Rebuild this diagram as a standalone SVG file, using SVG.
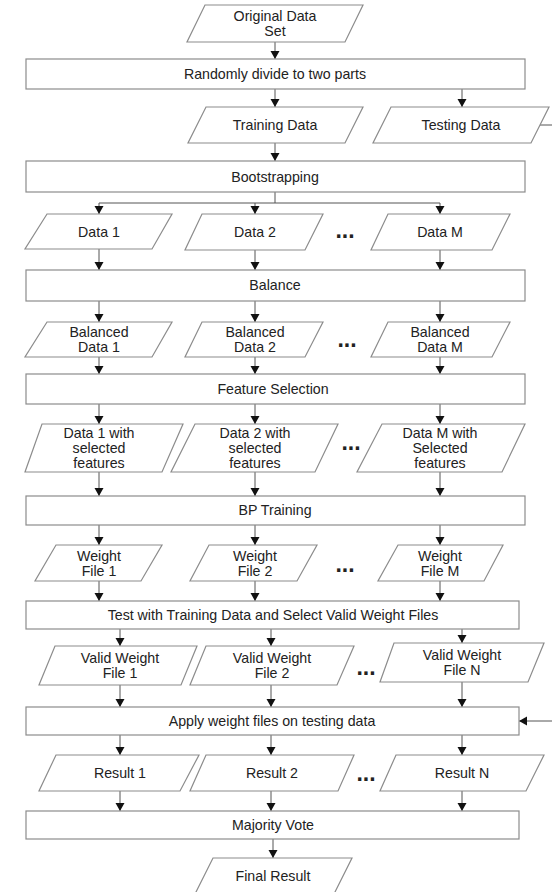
<svg xmlns="http://www.w3.org/2000/svg" width="552" height="892" viewBox="0 0 552 892">
  <style>
    .box { fill: #ffffff; stroke: #8c8c8c; stroke-width: 1.2; }
    .lbl { font-family: "Liberation Sans", Arial, sans-serif; font-size: 14.2px; fill: #222222; text-anchor: middle; }
    .dots { font-family: "Liberation Sans", Arial, sans-serif; font-size: 23px; font-weight: bold; fill: #222222; text-anchor: middle; }
    .wire { fill: none; stroke: #555555; stroke-width: 1; }
    .arr { fill: none; stroke: #555555; stroke-width: 1; marker-end: url(#head); }
  </style>
  <defs>
    <marker id="head" markerUnits="userSpaceOnUse" markerWidth="9" markerHeight="10" refX="8" refY="4.5" orient="auto">
      <path d="M0,0 L8,4.5 L0,9 z" fill="#111111"/>
    </marker>
  </defs>
  <rect width="552" height="892" fill="#ffffff"/>

  <!-- connectors -->
  <g id="connectors">
    <line class="arr" x1="275" y1="42" x2="275" y2="59"/>
    <line class="arr" x1="275" y1="89" x2="275" y2="107"/>
    <line class="arr" x1="462" y1="89" x2="462" y2="107"/>
    <line class="wire" x1="540" y1="125" x2="552" y2="125"/>
    <line class="arr" x1="275" y1="143" x2="275" y2="161"/>
    <polyline class="wire" points="275,192 275,203"/>
    <line class="wire" x1="99" y1="203" x2="440" y2="203"/>
    <line class="arr" x1="99" y1="203" x2="99" y2="214"/>
    <line class="arr" x1="255" y1="203" x2="255" y2="214"/>
    <line class="arr" x1="440" y1="203" x2="440" y2="214"/>
    <line class="arr" x1="99" y1="249" x2="99" y2="270"/>
    <line class="arr" x1="255" y1="250" x2="255" y2="270"/>
    <line class="arr" x1="440" y1="250" x2="440" y2="270"/>
    <line class="arr" x1="99" y1="301" x2="99" y2="322"/>
    <line class="arr" x1="255" y1="301" x2="255" y2="322"/>
    <line class="arr" x1="440" y1="301" x2="440" y2="322"/>
    <line class="arr" x1="99" y1="357" x2="99" y2="374"/>
    <line class="arr" x1="255" y1="357" x2="255" y2="374"/>
    <line class="arr" x1="440" y1="357" x2="440" y2="374"/>
    <line class="arr" x1="99" y1="404" x2="99" y2="424"/>
    <line class="arr" x1="255" y1="404" x2="255" y2="424"/>
    <line class="arr" x1="440" y1="404" x2="440" y2="424"/>
    <line class="arr" x1="99" y1="472" x2="99" y2="496"/>
    <line class="arr" x1="255" y1="472" x2="255" y2="496"/>
    <line class="arr" x1="440" y1="472" x2="440" y2="496"/>
    <line class="arr" x1="99" y1="525" x2="99" y2="545"/>
    <line class="arr" x1="255" y1="525" x2="255" y2="545"/>
    <line class="arr" x1="440" y1="525" x2="440" y2="545"/>
    <line class="arr" x1="99" y1="581" x2="99" y2="601"/>
    <line class="arr" x1="255" y1="581" x2="255" y2="601"/>
    <line class="arr" x1="440" y1="581" x2="440" y2="601"/>
    <line class="arr" x1="120" y1="629" x2="120" y2="646"/>
    <line class="arr" x1="271" y1="629" x2="271" y2="646"/>
    <line class="arr" x1="462" y1="629" x2="462" y2="643"/>
    <line class="arr" x1="120" y1="685" x2="120" y2="707"/>
    <line class="arr" x1="271" y1="685" x2="271" y2="707"/>
    <line class="arr" x1="462" y1="682" x2="462" y2="707"/>
    <line class="arr" x1="552" y1="721" x2="519" y2="721"/>
    <line class="arr" x1="120" y1="735" x2="120" y2="755"/>
    <line class="arr" x1="271" y1="735" x2="271" y2="755"/>
    <line class="arr" x1="462" y1="735" x2="462" y2="755"/>
    <line class="arr" x1="120" y1="791" x2="120" y2="811"/>
    <line class="arr" x1="271" y1="791" x2="271" y2="811"/>
    <line class="arr" x1="462" y1="791" x2="462" y2="811"/>
    <line class="arr" x1="273" y1="839" x2="273" y2="858"/>
  </g>

  <!-- input -->
  <g id="original-data">
    <polygon class="box" points="205,5 363,5 345,42 187,42"/>
    <text class="lbl" x="275" y="21">Original Data</text>
    <text class="lbl" x="275" y="36">Set</text>
  </g>
  <g id="divide">
    <rect class="box" x="26" y="59" width="499" height="30"/>
    <text class="lbl" x="275" y="79">Randomly divide to two parts</text>
  </g>
  <g id="training-data">
    <polygon class="box" points="206,107 363,107 345,143 188,143"/>
    <text class="lbl" x="275" y="130">Training Data</text>
  </g>
  <g id="testing-data">
    <polygon class="box" points="391,107 549,107 531,143 373,143"/>
    <text class="lbl" x="461" y="130">Testing Data</text>
  </g>
  <g id="bootstrapping">
    <rect class="box" x="26" y="161" width="499" height="31"/>
    <text class="lbl" x="275" y="182">Bootstrapping</text>
  </g>

  <!-- bootstrap samples -->
  <g id="data-1">
    <polygon class="box" points="47,214 172,214 152,249 25,249"/>
    <text class="lbl" x="99" y="237">Data 1</text>
  </g>
  <g id="data-2">
    <polygon class="box" points="202,214 323,214 305,250 185,250"/>
    <text class="lbl" x="255" y="237">Data 2</text>
  </g>
  <text class="dots" x="345" y="238">...</text>
  <g id="data-m">
    <polygon class="box" points="388,214 510,214 492,250 371,250"/>
    <text class="lbl" x="440" y="237">Data M</text>
  </g>
  <g id="balance">
    <rect class="box" x="26" y="270" width="499" height="31"/>
    <text class="lbl" x="275" y="290">Balance</text>
  </g>

  <!-- balanced samples -->
  <g id="balanced-1">
    <polygon class="box" points="47,322 172,322 152,357 25,357"/>
    <text class="lbl" x="99" y="337">Balanced</text>
    <text class="lbl" x="99" y="352">Data 1</text>
  </g>
  <g id="balanced-2">
    <polygon class="box" points="202,322 323,322 305,357 185,357"/>
    <text class="lbl" x="255" y="337">Balanced</text>
    <text class="lbl" x="255" y="352">Data 2</text>
  </g>
  <text class="dots" x="347" y="347">...</text>
  <g id="balanced-m">
    <polygon class="box" points="388,322 510,322 492,357 371,357"/>
    <text class="lbl" x="440" y="337">Balanced</text>
    <text class="lbl" x="440" y="352">Data M</text>
  </g>
  <g id="feature-selection">
    <rect class="box" x="26" y="374" width="499" height="30"/>
    <text class="lbl" x="273" y="394">Feature Selection</text>
  </g>

  <!-- reduced feature sets -->
  <g id="selected-1">
    <polygon class="box" points="42,424 183,424 162,472 25,472"/>
    <text class="lbl" x="99" y="438">Data 1 with</text>
    <text class="lbl" x="99" y="453">selected</text>
    <text class="lbl" x="99" y="468">features</text>
  </g>
  <g id="selected-2">
    <polygon class="box" points="195,424 338,424 315,472 171,472"/>
    <text class="lbl" x="255" y="438">Data 2 with</text>
    <text class="lbl" x="255" y="453">selected</text>
    <text class="lbl" x="255" y="468">features</text>
  </g>
  <text class="dots" x="351" y="450">...</text>
  <g id="selected-m">
    <polygon class="box" points="382,424 525,424 502,472 357,472"/>
    <text class="lbl" x="440" y="438">Data M with</text>
    <text class="lbl" x="440" y="453">Selected</text>
    <text class="lbl" x="440" y="468">features</text>
  </g>
  <g id="bp-training">
    <rect class="box" x="26" y="496" width="499" height="29"/>
    <text class="lbl" x="275" y="515">BP Training</text>
  </g>

  <!-- trained weights -->
  <g id="weight-1">
    <polygon class="box" points="56,545 162,545 141,581 35,581"/>
    <text class="lbl" x="99" y="561">Weight</text>
    <text class="lbl" x="99" y="576">File 1</text>
  </g>
  <g id="weight-2">
    <polygon class="box" points="209,545 317,545 297,581 190,581"/>
    <text class="lbl" x="255" y="561">Weight</text>
    <text class="lbl" x="255" y="576">File 2</text>
  </g>
  <text class="dots" x="345" y="572">...</text>
  <g id="weight-m">
    <polygon class="box" points="398,545 503,545 484,581 378,581"/>
    <text class="lbl" x="440" y="561">Weight</text>
    <text class="lbl" x="440" y="576">File M</text>
  </g>
  <g id="validate">
    <rect class="box" x="26" y="601" width="493" height="28"/>
    <text class="lbl" x="273" y="620">Test with Training Data and Select Valid Weight Files</text>
  </g>

  <!-- valid weights -->
  <g id="valid-1">
    <polygon class="box" points="55,646 197,646 181,685 39,685"/>
    <text class="lbl" x="120" y="663">Valid Weight</text>
    <text class="lbl" x="120" y="678">File 1</text>
  </g>
  <g id="valid-2">
    <polygon class="box" points="206,646 354,646 337,685 190,685"/>
    <text class="lbl" x="272" y="663">Valid Weight</text>
    <text class="lbl" x="272" y="678">File 2</text>
  </g>
  <text class="dots" x="366" y="675">...</text>
  <g id="valid-n">
    <polygon class="box" points="394,643 544,643 528,682 380,682"/>
    <text class="lbl" x="462" y="660">Valid Weight</text>
    <text class="lbl" x="462" y="675">File N</text>
  </g>
  <g id="apply">
    <rect class="box" x="26" y="707" width="493" height="28"/>
    <text class="lbl" x="272" y="726">Apply weight files on testing data</text>
  </g>

  <!-- results -->
  <g id="result-1">
    <polygon class="box" points="56,755 199,755 180,791 39,791"/>
    <text class="lbl" x="120" y="778">Result 1</text>
  </g>
  <g id="result-2">
    <polygon class="box" points="206,755 354,755 338,791 190,791"/>
    <text class="lbl" x="272" y="778">Result 2</text>
  </g>
  <text class="dots" x="366" y="781">...</text>
  <g id="result-n">
    <polygon class="box" points="396,755 544,755 526,791 380,791"/>
    <text class="lbl" x="462" y="778">Result N</text>
  </g>
  <g id="majority-vote">
    <rect class="box" x="26" y="811" width="493" height="28"/>
    <text class="lbl" x="273" y="830">Majority Vote</text>
  </g>
  <g id="final-result">
    <polygon class="box" points="213,858 352,858 334,894 195,894"/>
    <text class="lbl" x="273" y="881">Final Result</text>
  </g>
</svg>
